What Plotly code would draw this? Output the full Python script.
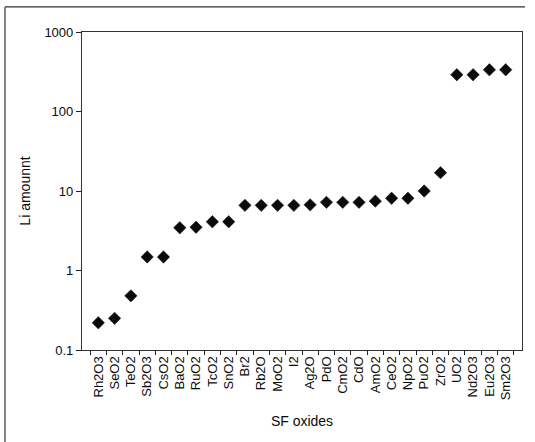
import plotly.graph_objects as go

categories = ["Rh2O3", "SeO2", "TeO2", "Sb2O3", "CsO2", "BaO2", "RuO2", "TcO2", "SnO2",
              "Br2", "Rb2O", "MoO2", "I2", "Ag2O", "PdO", "CmO2", "CdO", "AmO2", "CeO2",
              "NpO2", "PuO2", "ZrO2", "UO2", "Nd2O3", "Eu2O3", "Sm2O3"]
li_amount = [0.22, 0.25, 0.48, 1.48, 1.48, 3.45, 3.5, 4.1, 4.1,
             6.6, 6.6, 6.6, 6.6, 6.7, 7.2, 7.2, 7.2, 7.45, 8.1,
             8.1, 10, 17, 290, 290, 335, 335]
y_ticks = [0.1, 1, 10, 100, 1000]
y_tick_labels = ["0.1", "1", "10", "100", "1000"]

FONT = "Liberation Sans, Arial, sans-serif"

fig = go.Figure()
fig.add_trace(go.Scatter(
    x=categories, y=li_amount, mode="markers",
    marker=dict(symbol="diamond", size=9.5, color="#0a0a0a",
                line=dict(color="#0a0a0a", width=0.5)),
    showlegend=False,
))

fig.update_layout(
    width=535, height=442,
    margin=dict(l=82, r=13, t=32, b=92),
    paper_bgcolor="white", plot_bgcolor="white",
    font=dict(family=FONT, color="#0a0a0a", size=13),
    xaxis=dict(
        type="category", categoryorder="array", categoryarray=categories,
        range=[-1, 26], tickangle=-90, tickson="boundaries",
        ticks="outside", ticklen=4, tickcolor="#222222",
        showline=True, linecolor="#333333", linewidth=1.2, mirror=True,
        showgrid=False, zeroline=False,
        tickfont=dict(family=FONT, size=13, color="#0a0a0a"),
        title=dict(text="SF oxides", font=dict(family=FONT, size=14, color="#0a0a0a"),
                   standoff=16),
    ),
    yaxis=dict(
        type="log", range=[-1, 3],
        tickmode="array", tickvals=y_ticks, ticktext=y_tick_labels,
        ticks="outside", ticklen=5, tickcolor="#222222",
        showline=True, linecolor="#333333", linewidth=1.2, mirror=True,
        showgrid=False, zeroline=False,
        tickfont=dict(family=FONT, size=13, color="#0a0a0a"),
        title=dict(text="Li amounnt", font=dict(family=FONT, size=14, color="#0a0a0a"),
                   standoff=10),
    ),
    shapes=[
        dict(type="line", xref="paper", yref="paper",
             x0=-0.175, x1=-0.175, y0=-0.32, y1=1.079,
             line=dict(color="#333333", width=1.2), layer="below"),
        dict(type="line", xref="paper", yref="paper",
             x0=-0.175, x1=1.007, y0=1.079, y1=1.079,
             line=dict(color="#333333", width=1.2), layer="below"),
    ],
)

fig.write_html("out.html", config={"displayModeBar": False},
               post_script="document.body.style.margin='0';")
